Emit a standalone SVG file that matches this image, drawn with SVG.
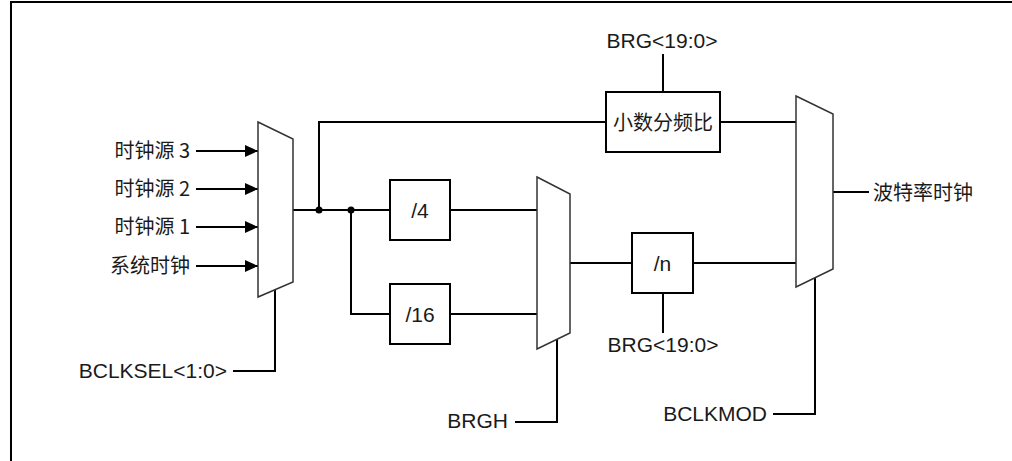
<svg xmlns="http://www.w3.org/2000/svg" width="1012" height="461" viewBox="0 0 1012 461">
<defs>
<marker id="arr" markerUnits="userSpaceOnUse" markerWidth="14" markerHeight="14" viewBox="0 0 14 14" refX="13" refY="7" orient="auto">
<path d="M0,1 L13,7 L0,13 Z" fill="#000"/>
</marker>
</defs>
<style>
.t{font-family:"Liberation Sans","Noto Sans CJK SC",Arial,sans-serif;font-size:21px;fill:#1a1a1a}
.c{font-family:"Noto Sans CJK SC","Liberation Sans",sans-serif;font-size:20px;fill:#1a1a1a}
.ln{stroke:#000;stroke-width:2;fill:none}
.box{stroke:#000;stroke-width:2;fill:#fff}
.mux{stroke:#333;stroke-width:1.5;fill:#fff}
.dot{fill:#000}
</style>
<rect width="1012" height="461" fill="#fff"/>
<g id="frame">
<path class="ln" d="M11,461 V2 H1012"/>
</g>
<g id="connectors">
<line class="ln" x1="196" y1="151" x2="258" y2="151" marker-end="url(#arr)"/>
<line class="ln" x1="196" y1="189" x2="258" y2="189" marker-end="url(#arr)"/>
<line class="ln" x1="196" y1="227" x2="258" y2="227" marker-end="url(#arr)"/>
<line class="ln" x1="196" y1="266" x2="258" y2="266" marker-end="url(#arr)"/>
<path class="ln" d="M293,210 H390"/>
<path class="ln" d="M319,210 V122 H606"/>
<path class="ln" d="M351,210 V314 H390"/>
<path class="ln" d="M450,210 H537"/>
<path class="ln" d="M450,314 H537"/>
<path class="ln" d="M570,263 H632"/>
<path class="ln" d="M693,263 H796"/>
<path class="ln" d="M720,122 H796"/>
<path class="ln" d="M833,192 H869"/>
<path class="ln" d="M663,54 V92"/>
<path class="ln" d="M663,293 V333"/>
<path class="ln" d="M275,290 V371 H233"/>
<path class="ln" d="M557,339 V422 H515"/>
<path class="ln" d="M815,278 V414 H773"/>
<circle class="dot" cx="319" cy="210" r="3.5"/>
<circle class="dot" cx="351" cy="210" r="3.5"/>
</g>
<g id="inputs">
<text class="c" x="190" y="158" text-anchor="end">时钟源 3</text>
<text class="c" x="190" y="196" text-anchor="end">时钟源 2</text>
<text class="c" x="190" y="234" text-anchor="end">时钟源 1</text>
<text class="c" x="190" y="273" text-anchor="end">系统时钟</text>
</g>
<g id="mux1">
<polygon class="mux" points="258,122 293,139 293,282 258,297"/>
</g>
<g id="bclksel">
<text class="t" x="227" y="378" text-anchor="end">BCLKSEL&lt;1:0&gt;</text>
</g>
<g id="div4">
<rect class="box" x="390" y="180" width="60" height="60"/>
<text class="t" x="420" y="217.5" text-anchor="middle">/4</text>
</g>
<g id="div16">
<rect class="box" x="390" y="284" width="60" height="60"/>
<text class="t" x="420" y="321.5" text-anchor="middle">/16</text>
</g>
<g id="mux2">
<polygon class="mux" points="537,177 570,194 570,333 537,349"/>
</g>
<g id="brgh">
<text class="t" x="508" y="428" text-anchor="end">BRGH</text>
</g>
<g id="divn">
<rect class="box" x="632" y="233" width="61" height="60"/>
<text class="t" x="662.5" y="270.5" text-anchor="middle">/n</text>
</g>
<g id="brg-bottom">
<text class="t" x="663" y="352" text-anchor="middle">BRG&lt;19:0&gt;</text>
</g>
<g id="frac">
<rect class="box" x="606" y="92" width="114" height="60"/>
<text class="c" x="663" y="129.5" text-anchor="middle" font-size="21">小数分频比</text>
</g>
<g id="brg-top">
<text class="t" x="662" y="48" text-anchor="middle">BRG&lt;19:0&gt;</text>
</g>
<g id="mux3">
<polygon class="mux" points="796,96 833,114 833,269 796,287"/>
</g>
<g id="bclkmod">
<text class="t" x="767" y="421" text-anchor="end">BCLKMOD</text>
</g>
<g id="output">
<text class="c" x="873" y="199.5" font-size="21">波特率时钟</text>
</g>
</svg>
